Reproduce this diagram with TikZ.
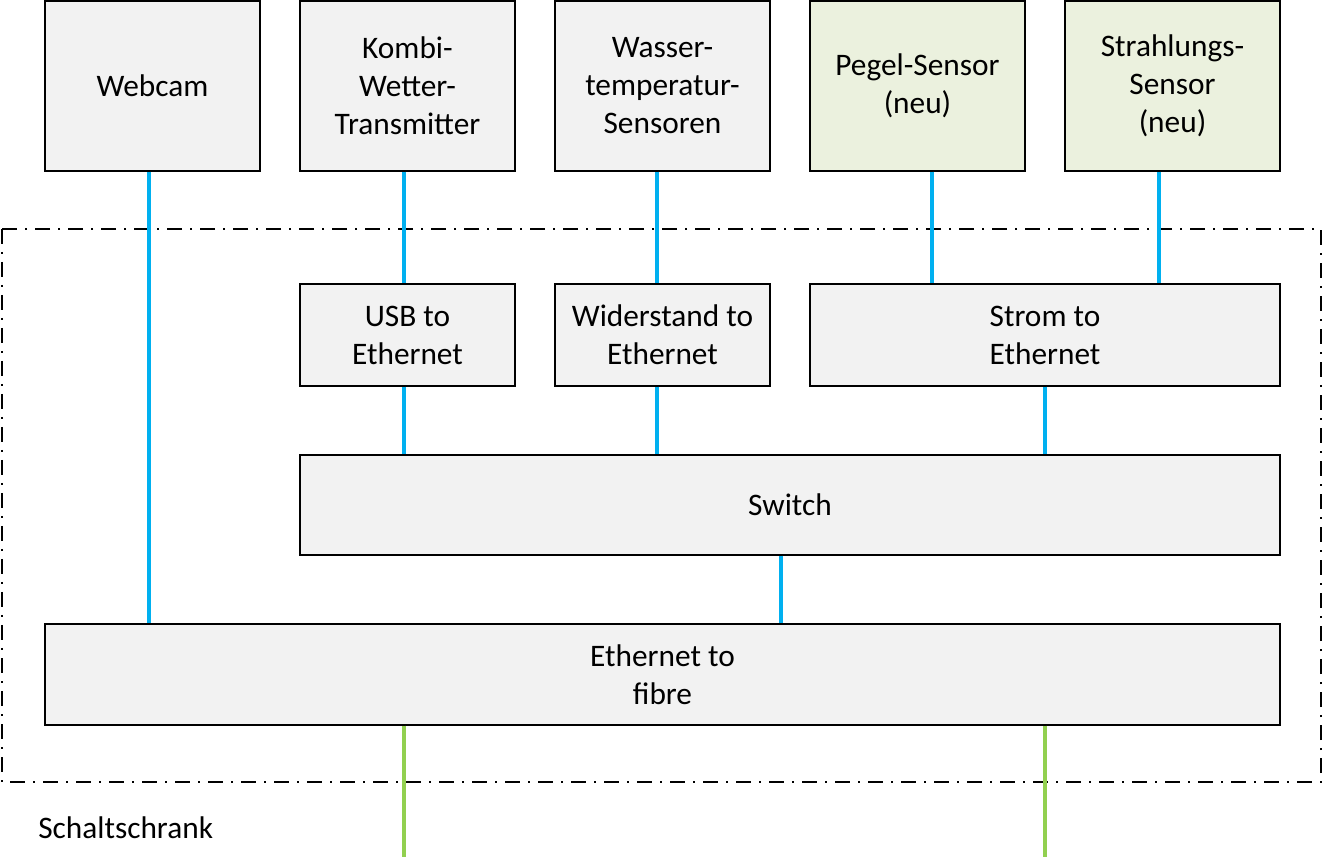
\documentclass[tikz,border=0pt]{standalone}
\usepackage{fontspec}
\setmainfont{Carlito}
\definecolor{boxgray}{HTML}{F2F2F2}
\definecolor{boxgreen}{HTML}{EBF1DE}
\definecolor{linkblue}{HTML}{00B0F0}
\definecolor{linkgreen}{HTML}{92D050}
\begin{document}
\begin{tikzpicture}[x=0.75pt,y=-0.75pt,
  box/.style={draw=black,line width=1.1pt,fill=boxgray,inner sep=0pt,align=center,
    font=\fontsize{23.5}{28.5}\selectfont},
  topbox/.style={box,minimum width=161.25pt,minimum height=127.5pt},
  midbox/.style={box,minimum height=76.5pt},
  newbox/.style={fill=boxgreen},
  blink/.style={draw=linkblue,line width=2.4pt},
  glink/.style={draw=linkgreen,line width=2.4pt},
  cabinet/.style={draw=black,line width=1.3pt,dash pattern=on 11.25pt off 6pt on 1.5pt off 6pt}]
\useasboundingbox (0,0) rectangle (1325,862);
% cabinet
\draw[cabinet] (2,229) rectangle (1321,782);
\node[anchor=west,font=\fontsize{23.5}{28.5}\selectfont,inner sep=0pt] (schrank) at (38,828) {Schaltschrank};
% top boxes
\node[topbox] (webcam) at (152.5,86) {Webcam};
\node[topbox] (kombi) at (407.5,86) {Kombi-\\Wetter-\\Transmitter};
\node[topbox] (wasser) at (662.5,86) {Wasser-\\temperatur-\\Sensoren};
\node[topbox,newbox] (pegel) at (917.5,86) {Pegel-Sensor\\(neu)};
\node[topbox,newbox] (strahl) at (1172.5,86) {Strahlungs-\\Sensor\\(neu)};
% converters
\node[midbox,minimum width=161.25pt] (usb) at (407.5,335) {USB to\\Ethernet};
\node[midbox,minimum width=161.25pt] (wid) at (662.5,335) {Widerstand to\\Ethernet};
\node[midbox,minimum width=352.5pt] (strom) at (1045,335) {Strom to\\Ethernet};
\node[box,minimum width=735pt,minimum height=75pt] (switch) at (790,505) {Switch};
\node[box,minimum width=926.25pt,minimum height=75.75pt] (eth) at (662.5,674.5) {Ethernet to\\fibre};
% x positions
\coordinate (xa) at (149,0);
\coordinate (xb) at (404,0);
\coordinate (xc) at (657,0);
\coordinate (xd) at (932,0);
\coordinate (xe) at (1159,0);
\coordinate (xf) at (1045,0);
\coordinate (xg) at (781,0);
\coordinate (fibA) at (404,857);
\coordinate (fibB) at (1045,857);
% connectors
\draw[blink] (webcam.south -| xa) -- (eth.north -| xa);
\draw[blink] (kombi.south -| xb) -- (usb.north -| xb);
\draw[blink] (usb.south -| xb) -- (switch.north -| xb);
\draw[blink] (wasser.south -| xc) -- (wid.north -| xc);
\draw[blink] (wid.south -| xc) -- (switch.north -| xc);
\draw[blink] (pegel.south -| xd) -- (strom.north -| xd);
\draw[blink] (strahl.south -| xe) -- (strom.north -| xe);
\draw[blink] (strom.south -| xf) -- (switch.north -| xf);
\draw[blink] (switch.south -| xg) -- (eth.north -| xg);
\draw[glink] (eth.south -| fibA) -- (fibA);
\draw[glink] (eth.south -| fibB) -- (fibB);
\end{tikzpicture}
\end{document}
